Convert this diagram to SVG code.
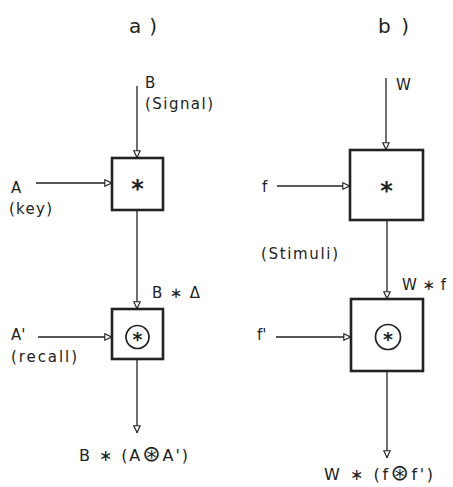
<svg xmlns="http://www.w3.org/2000/svg" width="453" height="487" viewBox="0 0 453 487">
<style>
text{font-family:"DejaVu Sans","Liberation Sans",sans-serif;font-size:15px;fill:#222}
.title{font-size:20px}
.box{fill:none;stroke:#222;stroke-width:2.6}
.conn line{stroke:#222;stroke-width:1.3;marker-end:url(#tri)}
.op{font-size:24px;font-weight:bold;text-anchor:middle}
.op2{font-size:19px;font-weight:bold;text-anchor:middle}
.ring{fill:none;stroke:#222;stroke-width:1.7}
.f{font-size:16px}
.big{font-size:22px}
</style>
<defs>
<marker id="tri" viewBox="0 0 10 10" refX="10" refY="5" markerWidth="8" markerHeight="8" markerUnits="userSpaceOnUse" orient="auto">
<path d="M1,1 L9.5,5 L1,9 z" fill="#fff" stroke="#222" stroke-width="1.4"/>
</marker>
</defs>
<rect width="453" height="487" fill="#fff"/>
<text class="title" x="129" y="33" textLength="28" lengthAdjust="spacing">a)</text>
<text class="title" x="378" y="33" textLength="31" lengthAdjust="spacing">b)</text>
<g id="conn" class="conn">
<line x1="137" y1="86" x2="137" y2="158"/>
<line x1="36" y1="183" x2="112" y2="183"/>
<line x1="137" y1="210" x2="137" y2="309"/>
<line x1="38" y1="337" x2="112" y2="337"/>
<line x1="137" y1="359" x2="137" y2="433"/>
<line x1="386" y1="78" x2="386" y2="150"/>
<line x1="277" y1="186" x2="350" y2="186"/>
<line x1="387" y1="220" x2="387" y2="299"/>
<line x1="276" y1="337" x2="351" y2="337"/>
<line x1="387" y1="371" x2="387" y2="458"/>
</g>
<g id="conv-a">
<rect class="box" x="112" y="158" width="51" height="52"/>
<text class="op" x="137.5" y="197">*</text>
</g>
<g id="corr-a">
<rect class="box" x="112" y="309" width="51" height="50"/>
<circle class="ring" cx="137.5" cy="337" r="11.5"/>
<text class="op2" x="137.5" y="346">*</text>
</g>
<g id="conv-b">
<rect class="box" x="350" y="150" width="73" height="70"/>
<text class="op" x="386.5" y="199">*</text>
</g>
<g id="corr-b">
<rect class="box" x="351" y="299" width="72" height="72"/>
<circle class="ring" cx="388" cy="337" r="12.5"/>
<text class="op2" x="388" y="346">*</text>
</g>
<g id="labels">
<text x="145" y="88">B</text>
<text x="145" y="109" textLength="68" lengthAdjust="spacing">(Signal)</text>
<text x="11" y="193">A</text>
<text x="9" y="214" textLength="43" lengthAdjust="spacing">(key)</text>
<text x="152" y="298" textLength="48" lengthAdjust="spacing">B ∗ Δ</text>
<text x="11" y="340">A'</text>
<text x="11" y="362" textLength="66" lengthAdjust="spacing">(recall)</text>
<text class="f" x="79" y="461" textLength="109" lengthAdjust="spacing">B ∗ (A<tspan class="big">⊛</tspan>A')</text>
<text x="396" y="90">W</text>
<text x="262" y="192">f</text>
<text x="261" y="259" textLength="77" lengthAdjust="spacing">(Stimuli)</text>
<text x="402" y="290" textLength="44" lengthAdjust="spacing">W ∗ f</text>
<text x="257" y="340">f'</text>
<text class="f" x="324" y="480" textLength="109" lengthAdjust="spacing">W ∗ (f<tspan class="big">⊛</tspan>f')</text>
</g>
</svg>
